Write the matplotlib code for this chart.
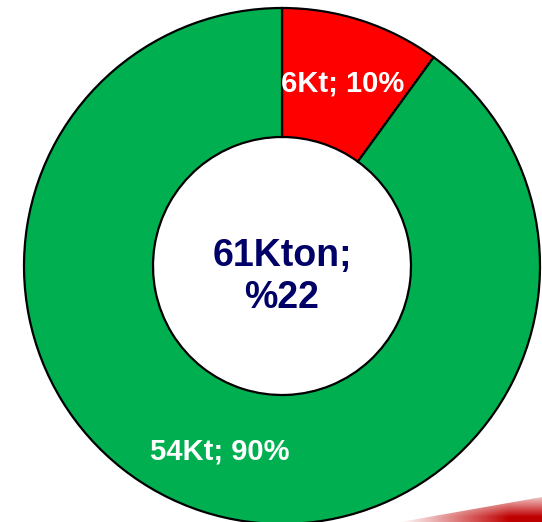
import matplotlib
matplotlib.use('Agg')
import matplotlib.pyplot as plt
import numpy as np
from matplotlib.patches import Polygon

# data
labels = ["6Kt; 10%", "54Kt; 90%"]
values = [10, 90]
colors = ["#FF0000", "#00B050"]
center_lines = ["61Kton;", "%22"]

plt.rcParams['font.family'] = ['Liberation Sans', 'DejaVu Sans']

W, H = 542, 522
fig = plt.figure(figsize=(W / 100, H / 100), dpi=100)
ax = fig.add_axes([0, 0, 1, 1])

# axes in pixel units, y measured from the bottom
cx, cy = 282, H - 266
R = 258

wedges, _ = ax.pie(values, colors=colors, startangle=90, counterclock=False,
                   radius=R, center=(cx, cy),
                   wedgeprops=dict(width=R * 0.5, edgecolor='black', linewidth=1.6))
ax.set_aspect('auto')
ax.set_xlim(0, W)
ax.set_ylim(0, H)
ax.axis('off')

# slice labels (pixel positions from the top-left)
label_pos = [(343, 84), (220, 452)]
for txt, (px, py) in zip(labels, label_pos):
    ax.text(px, H - py, txt, ha='center', va='center',
            color='white', fontsize=21, fontweight='bold')

ax.text(cx, H - 256, center_lines[0], ha='center', va='center',
        color='#000066', fontsize=27, fontweight='bold')
ax.text(cx, H - 298, center_lines[1], ha='center', va='center',
        color='#000066', fontsize=27, fontweight='bold')

# red swoosh in the bottom-right corner, fading to the upper left
ov = fig.add_axes([0, 0, 1, 1], zorder=-1)
ov.set_xlim(0, W)
ov.set_ylim(0, H)
ov.axis('off')
gx, gy = np.meshgrid(np.linspace(0, 1, 200), np.linspace(0, 1, 40))
grad = np.zeros((40, 200, 4))
grad[..., 0] = 0.75
grad[..., 3] = np.clip(gx * 1.3, 0, 1) * np.clip(1.2 - gy, 0, 1)
im = ov.imshow(grad, extent=(400, W, 0, 26), origin='lower', aspect='auto')
clip = Polygon([(400, 0), (W, 0), (W, 25)], closed=True, transform=ov.transData)
im.set_clip_path(clip)

fig.savefig('out.png', dpi=100)
